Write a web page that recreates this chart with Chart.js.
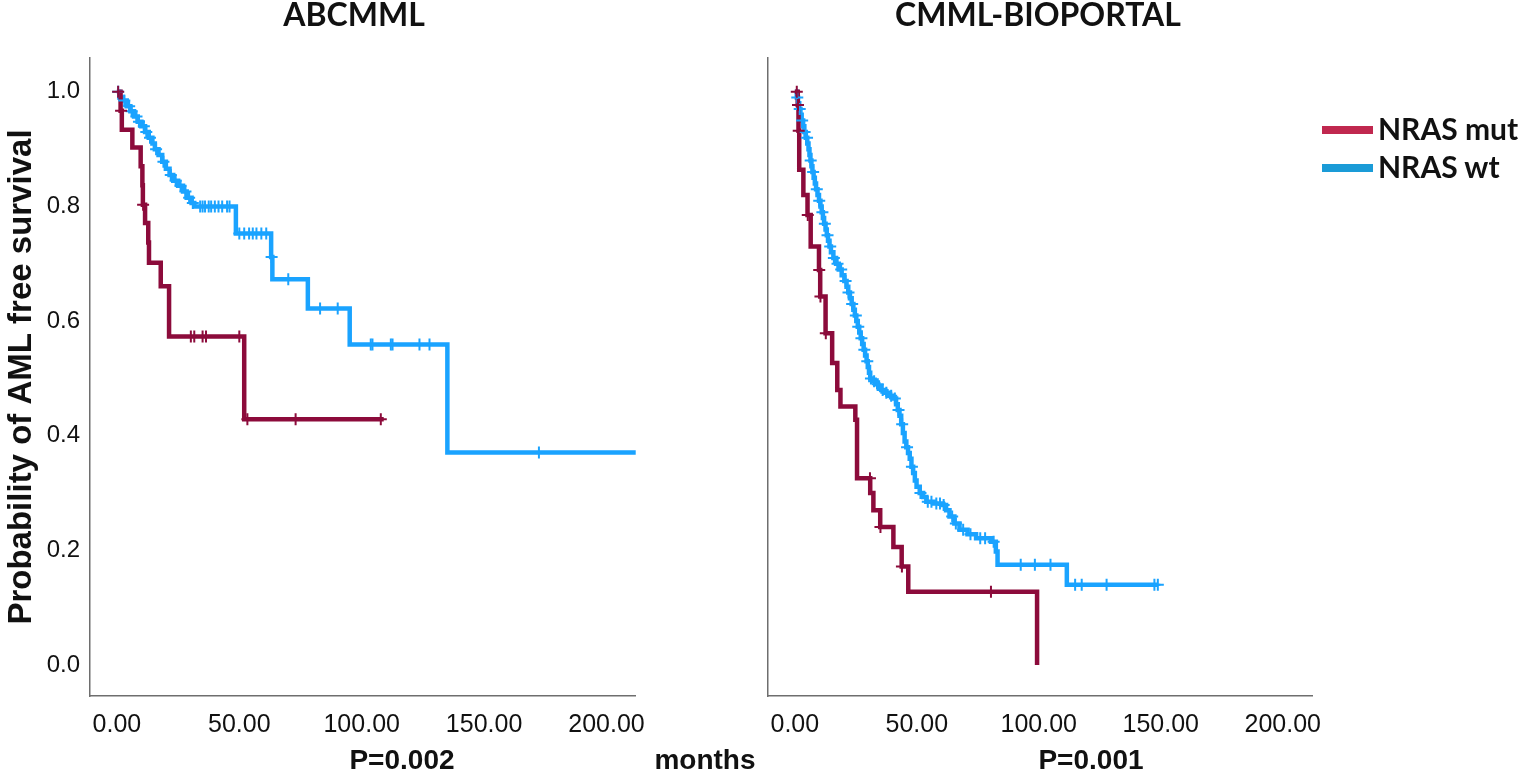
<!DOCTYPE html>
<html>
<head>
<meta charset="utf-8">
<script src="https://cdn.jsdelivr.net/npm/chart.js@4.4.1/dist/chart.umd.min.js"></script>
<style>
  html, body { margin: 0; padding: 0; background: #fff; }
  #page { position: relative; width: 1524px; height: 774px; overflow: hidden; }
  .box { position: absolute; top: 0; height: 774px; }
  .txt { position: absolute; white-space: nowrap; color: #111; }
  .title { font: bold 32px Lato, sans-serif; text-align: center; width: 400px; }
  .foot { font: bold 28px "Liberation Sans", Arial, sans-serif; text-align: center; width: 200px; }
  .leg { font: bold 30px Lato, sans-serif; }
  .legline { position: absolute; height: 8px; width: 51px; }
</style>
</head>
<body>
<div id="page">
  <div class="box" style="left:0; width:660px;"><canvas id="leftChart"></canvas></div>
  <div class="box" style="left:680px; width:660px;"><canvas id="rightChart"></canvas></div>

  <div class="txt title" style="left:154px; top:-6px;">ABCMML</div>
  <div class="txt title" style="left:838px; top:-6px;">CMML-BIOPORTAL</div>

  <div class="legline" style="left:1322px; top:126px; background:#c0284f;"></div>
  <div class="txt leg" style="left:1378px; top:110px;">NRAS mut</div>
  <div class="legline" style="left:1322px; top:164px; background:#1a9bd7;"></div>
  <div class="txt leg" style="left:1378px; top:148px;">NRAS wt</div>

  <div class="txt foot" style="left:302px; top:744px;">P=0.002</div>
  <div class="txt foot" style="left:605px; top:744px;">months</div>
  <div class="txt foot" style="left:991px; top:744px;">P=0.001</div>
</div>

<script>
// ---- dados (tempo em meses, sobrevida) ----
const xTicks = [0, 50, 100, 150, 200];
const yTicks = [0.0, 0.2, 0.4, 0.6, 0.8, 1.0];

// ABCMML - NRAS mut
const abcMutTime = [1.5, 2.0, 6.3, 9.7, 10.4, 10.6, 11.5, 12.8, 13.1, 17.9, 21.3, 52.0];
const abcMutSurv = [0.967, 0.934, 0.903, 0.870, 0.837, 0.803, 0.771, 0.737, 0.702, 0.661, 0.573, 0.429];
const abcMutEnd = 109.0;
const abcMutCens = [0.5, 1.7, 10.7, 30.2, 31.6, 35.0, 36.4, 50.0, 53.3, 73.0, 107.8];

// ABCMML - NRAS wt
const abcWtTime = [1.0, 2.5, 4.0, 5.5, 7.0, 8.5, 10.0, 11.5, 13.0, 14.5, 15.5, 17.0, 18.5, 20.0, 21.5, 23.0, 25.0, 27.0, 28.5, 30.5, 31.6, 48.6, 63.0, 63.5, 78.0, 95.1, 135.0];
const abcWtSurv = [0.99, 0.985, 0.975, 0.966, 0.957, 0.948, 0.94, 0.93, 0.92, 0.91, 0.90, 0.89, 0.878, 0.866, 0.855, 0.845, 0.836, 0.826, 0.815, 0.806, 0.80, 0.753, 0.712, 0.673, 0.622, 0.559, 0.371];
const abcWtEnd = 212.0;
const abcWtCens = [0.5, 3, 5, 6, 8, 9, 11, 12, 13.5, 16, 19, 22, 24, 26, 28, 29.5, 31, 34, 35, 36, 37.5, 38.5, 40, 41.5, 43, 45, 46, 50, 52, 54, 55.5, 57, 59, 61, 63.2, 70, 83, 90.2, 103.7, 104.4, 111.9, 112.6, 123.6, 127.7, 172.4];

// CMML-BIOPORTAL - NRAS mut
const bioMutTime = [1.2, 1.5, 1.8, 3.5, 5.2, 6.5, 9.9, 10.4, 12.6, 15.3, 17.4, 18.7, 24.8, 25.5, 30.9, 32.2, 35.0, 40.4, 43.8, 46.5, 99.3];
const bioMutSurv = [0.977, 0.932, 0.864, 0.82, 0.785, 0.73, 0.689, 0.643, 0.579, 0.527, 0.48, 0.451, 0.428, 0.326, 0.30, 0.27, 0.241, 0.206, 0.172, 0.128, 0.0];
const bioMutEnd = 99.3;
const bioMutCens = [0.8, 1.3, 1.6, 5.3, 10.0, 10.5, 12.7, 30.8, 35.1, 43.9, 80.4];

// CMML-BIOPORTAL - NRAS wt
const bioWtTime = [0.8, 1.3, 1.8, 2.3, 2.8, 3.4, 3.9, 4.5, 5.1, 5.6, 6.0, 6.4, 6.8, 7.2, 7.7, 8.2, 8.7, 9.3, 9.9, 10.5, 11.0, 11.5, 12.0, 12.6, 13.1, 13.6, 14.2, 14.8, 15.8, 16.9, 18.0, 19.2, 20.3, 21.2, 21.9, 22.6, 23.3, 24.0, 24.6, 25.2, 25.8, 26.4, 27.0, 27.6, 28.2, 28.8, 29.4, 29.9, 30.4, 30.9, 31.8, 33.0, 34.2, 35.4, 37.0, 38.6, 40.2, 41.5, 42.2, 42.9, 43.6, 44.3, 45.0, 45.7, 46.4, 47.1, 47.8, 48.5, 49.2, 49.9, 51.2, 52.6, 53.9, 57.0, 60.7, 62.0, 63.4, 65.4, 67.5, 70.8, 74.3, 80.4, 82.4, 83.1, 111.5];
const bioWtSurv = [0.99, 0.98, 0.97, 0.96, 0.95, 0.94, 0.93, 0.92, 0.91, 0.90, 0.89, 0.88, 0.87, 0.86, 0.85, 0.84, 0.83, 0.82, 0.81, 0.80, 0.79, 0.78, 0.77, 0.76, 0.75, 0.74, 0.73, 0.72, 0.71, 0.70, 0.69, 0.68, 0.67, 0.66, 0.65, 0.64, 0.63, 0.62, 0.61, 0.60, 0.59, 0.58, 0.57, 0.56, 0.55, 0.54, 0.53, 0.52, 0.51, 0.50, 0.495, 0.49, 0.485, 0.48, 0.475, 0.47, 0.465, 0.455, 0.445, 0.435, 0.42, 0.405, 0.39, 0.38, 0.37, 0.36, 0.346, 0.335, 0.322, 0.311, 0.30, 0.293, 0.285, 0.282, 0.279, 0.27, 0.259, 0.247, 0.236, 0.228, 0.221, 0.215, 0.198, 0.175, 0.14];
const bioWtEnd = 148.8;
const bioWtCens = [1, 2, 3, 4, 5, 6.5, 7.5, 9, 10, 11.3, 12.3, 13.4, 14.5, 16, 17.5, 19, 20.8, 22, 23.5, 25, 26, 27.3, 28.5, 29.7, 31.2, 32.5, 34, 36, 37.5, 39.5, 41, 42.5, 44, 46, 48, 51.5, 54.5, 56, 58, 59.5, 61, 64.5, 66, 69, 72, 76, 78, 81.5, 92.6, 98.4, 104.8, 114.9, 117.6, 127.8, 147.4, 148.8];

const corMut = '#8c0b3b';
const corWt = '#1aa3ff';

// monta os pontos da curva em degraus
function degraus(tempos, sobrev, fim) {
    const pts = [{ x: 0, y: 1 }];
    tempos.forEach((t, i) => pts.push({ x: t, y: sobrev[i] }));
    pts.push({ x: fim, y: sobrev[sobrev.length - 1] });
    return pts;
}

// posição de cada censura sobre a curva
function censuras(tempos, sobrev, cens) {
    return cens.map(c => {
        let s = 1;
        tempos.forEach((t, i) => { if (t <= c) s = sobrev[i]; });
        return { x: c, y: s };
    });
}

function curva(pts, cor) {
    return {
        type: 'line', data: pts, borderColor: cor, borderWidth: 4.5,
        stepped: 'before', pointRadius: 0, fill: false,
        borderJoinStyle: 'miter', borderCapStyle: 'butt', order: 2
    };
}

function cruzes(pts, cor) {
    return {
        type: 'scatter', data: pts, pointStyle: 'cross', pointRadius: 6,
        borderColor: cor, backgroundColor: cor, pointBorderWidth: 2, order: 1
    };
}

function montaGrafico(id, datasets, comEixoY) {
    const fonte = "'Liberation Sans', Arial, sans-serif";
    new Chart(document.getElementById(id), {
        type: 'line',
        data: { datasets: datasets },
        options: {
            responsive: true,
            maintainAspectRatio: false,
            animation: false,
            layout: { padding: { top: 58, right: comEixoY ? 24 : 28, left: 0, bottom: 0 } },
            plugins: { legend: { display: false }, tooltip: { enabled: false }, title: { display: false } },
            scales: {
                x: {
                    type: 'linear', min: -11, max: 212,
                    grid: { display: false, drawTicks: false },
                    border: { display: true, color: '#6e6e6e', width: 1.5 },
                    afterBuildTicks: s => { s.ticks = xTicks.map(v => ({ value: v })); },
                    afterFit: s => { s.height = 78; },
                    ticks: {
                        padding: 14, color: '#111', maxRotation: 0,
                        font: { family: fonte, size: 25 },
                        callback: v => v.toFixed(2)
                    }
                },
                y: {
                    type: 'linear', min: -0.054, max: 1.059,
                    grid: { display: false, drawTicks: false },
                    border: { display: true, color: '#6e6e6e', width: 1.5 },
                    afterBuildTicks: s => { s.ticks = yTicks.map(v => ({ value: v })); },
                    afterFit: s => { s.width = comEixoY ? 90 : 88; },
                    ticks: {
                        display: comEixoY, padding: 10, color: '#111',
                        font: { family: fonte, size: 24 },
                        callback: v => v.toFixed(1)
                    },
                    title: {
                        display: comEixoY, text: 'Probability of AML free survival',
                        color: '#111', padding: { top: 2, bottom: 0 },
                        font: { family: fonte, size: 33, weight: 'bold' }
                    }
                }
            }
        }
    });
}

montaGrafico('leftChart', [
    curva(degraus(abcMutTime, abcMutSurv, abcMutEnd), corMut),
    curva(degraus(abcWtTime, abcWtSurv, abcWtEnd), corWt),
    cruzes(censuras(abcMutTime, abcMutSurv, abcMutCens), corMut),
    cruzes(censuras(abcWtTime, abcWtSurv, abcWtCens), corWt)
], true);

montaGrafico('rightChart', [
    curva(degraus(bioMutTime, bioMutSurv, bioMutEnd), corMut),
    curva(degraus(bioWtTime, bioWtSurv, bioWtEnd), corWt),
    cruzes(censuras(bioMutTime, bioMutSurv, bioMutCens), corMut),
    cruzes(censuras(bioWtTime, bioWtSurv, bioWtCens), corWt)
], false);
</script>
</body>
</html>
